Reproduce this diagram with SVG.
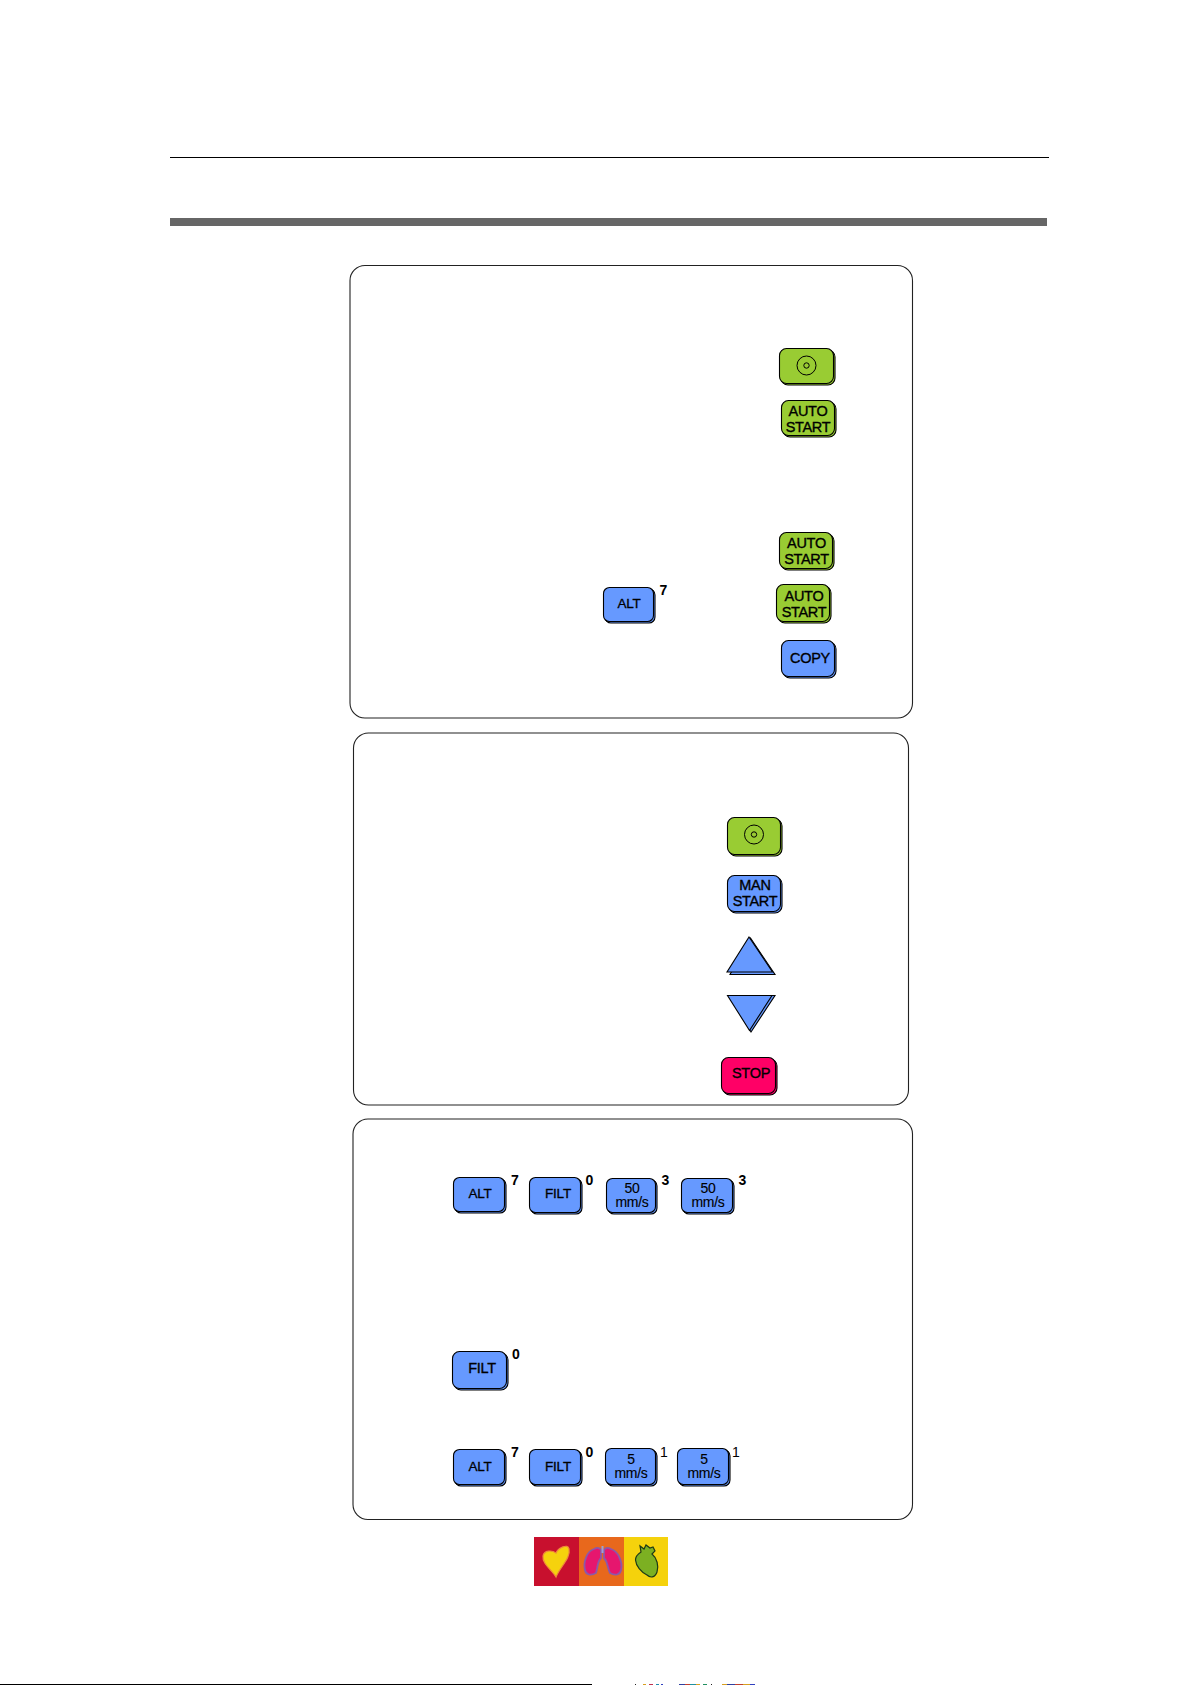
<svg xmlns="http://www.w3.org/2000/svg" width="1191" height="1685" viewBox="0 0 1191 1685">
<defs><filter id="soft" x="-10%" y="-10%" width="120%" height="120%"><feGaussianBlur stdDeviation="0.5"/></filter></defs>
<style>
text{font-family:"Liberation Sans",Arial,sans-serif;fill:#000}
.k{font-size:14.500px;text-anchor:middle;stroke:#000;stroke-width:.35;letter-spacing:-.3px}
.s{font-size:13.500px;text-anchor:middle;stroke:#000;stroke-width:.3;letter-spacing:-.2px}
.m{font-size:14px;text-anchor:middle;stroke:#000;stroke-width:.12;letter-spacing:-.3px}
.n{font-size:14px}
.d{font-size:14px;font-weight:bold}
.panel{fill:#fff;stroke:#222;stroke-width:1.100}
.g rect,.g path{fill:#99cc33;stroke:#000;stroke-width:1.100}
.b rect,.b path{fill:#6699ff;stroke:#000;stroke-width:1.100}
.r rect{fill:#ff0066;stroke:#000;stroke-width:1.100}
.disc{fill:none;stroke:#000;stroke-width:1}
</style>
<rect width="1191" height="1685" fill="#fff"/>
<g id="rules">
<rect x="170" y="157" width="879" height="1" fill="#000"/>
<rect x="170" y="218" width="877" height="8" fill="#666"/>
<rect x="0" y="1684" width="592" height="1" fill="#000"/>
<g>
<rect x="635" y="1684" width="1" height="1" fill="#222"/><rect x="643" y="1684" width="3" height="1" fill="#d8a020"/><rect x="649" y="1684" width="4" height="1" fill="#c03050"/><rect x="656" y="1684" width="3" height="1" fill="#2090b0"/><rect x="661" y="1684" width="2" height="1" fill="#3040c0"/>
<rect x="679" y="1684" width="6" height="1" fill="#3040a0"/><rect x="685" y="1684" width="5" height="1" fill="#c04030"/><rect x="690" y="1684" width="6" height="1" fill="#2090a0"/><rect x="696" y="1684" width="4" height="1" fill="#d8a020"/><rect x="703" y="1684" width="4" height="1" fill="#209060"/><rect x="711" y="1684" width="1" height="1" fill="#222"/>
<rect x="722" y="1684" width="5" height="1" fill="#d8a020"/><rect x="727" y="1684" width="8" height="1" fill="#3040a0"/><rect x="735" y="1684" width="8" height="1" fill="#c04030"/><rect x="743" y="1684" width="7" height="1" fill="#d8a020"/><rect x="750" y="1684" width="5" height="1" fill="#3040c0"/>
</g>
</g>
<g id="panel-1"><rect class="panel" x="350" y="265.500" width="562.500" height="452.500" rx="15"/></g>
<g id="panel-2"><rect class="panel" x="353.500" y="733" width="555" height="372" rx="15"/></g>
<g id="panel-3"><rect class="panel" x="353" y="1119" width="559.500" height="400.500" rx="15"/></g>

<g id="btn-disc-1" class="g"><rect x="781" y="350" width="54" height="35" rx="7"/><rect x="779.500" y="348.500" width="54" height="35" rx="7"/><circle class="disc" cx="806.500" cy="365.500" r="9.500" style="fill:none"/><circle class="disc" cx="806.500" cy="365.500" r="2.700"/></g>
<g id="btn-auto-1" class="g"><rect x="783" y="402" width="53" height="35" rx="7"/><rect x="781.500" y="400.500" width="53" height="35" rx="7"/><text class="k" x="808" y="416">AUTO</text><text class="k" x="808" y="432">START</text></g>
<g id="btn-auto-2" class="g"><rect x="781" y="534" width="53" height="36" rx="7"/><rect x="779.500" y="532.500" width="53" height="36" rx="7"/><text class="k" x="806.500" y="548">AUTO</text><text class="k" x="806.500" y="564">START</text></g>
<g id="btn-alt-1" class="b"><rect x="605" y="589" width="50" height="34" rx="6"/><rect x="603.500" y="587.500" width="50" height="34" rx="6"/><text class="s" x="629" y="608">ALT</text></g>
<text class="d" x="659.500" y="594.500">7</text>
<g id="btn-auto-3" class="g"><rect x="778" y="586" width="53" height="37" rx="7"/><rect x="776.500" y="584.500" width="53" height="37" rx="7"/><text class="k" x="804" y="601">AUTO</text><text class="k" x="804" y="616.500">START</text></g>
<g id="btn-copy" class="b"><rect x="783" y="642" width="53" height="36" rx="7"/><rect x="781.500" y="640.500" width="53" height="36" rx="7"/><text class="k" x="810" y="663">COPY</text></g>

<g id="btn-disc-2" class="g"><rect x="729" y="819" width="53" height="37" rx="7"/><rect x="727.500" y="817.500" width="53" height="37" rx="7"/><circle class="disc" cx="754" cy="834.500" r="9.500" style="fill:none"/><circle class="disc" cx="754" cy="834.500" r="2.700"/></g>
<g id="btn-man" class="b"><rect x="729" y="877" width="53" height="36" rx="7"/><rect x="727.500" y="875.500" width="53" height="36" rx="7"/><text class="k" x="755" y="890">MAN</text><text class="k" x="755" y="906">START</text></g>
<g id="btn-up" class="b"><path d="M750.500 938L775 974.500H730Z"/><path d="M749 937L772.500 972H727Z"/></g>
<g id="btn-down" class="b"><path d="M730 995.500H775L751 1032Z"/><path d="M727.500 995.500H772L749.500 1030.500Z"/></g>
<g id="btn-stop" class="r"><rect x="723" y="1059" width="54" height="36" rx="7"/><rect x="721.500" y="1057.500" width="54" height="36" rx="7"/><text class="k" x="751" y="1078">STOP</text></g>

<g id="btn-alt-2" class="b"><rect x="455" y="1179" width="51" height="34" rx="6"/><rect x="453.500" y="1177.500" width="51" height="34" rx="6"/><text class="s" x="480" y="1198">ALT</text></g>
<text class="d" x="511" y="1185">7</text>
<g id="btn-filt-1" class="b"><rect x="531" y="1179" width="51" height="35" rx="6"/><rect x="529.500" y="1177.500" width="51" height="35" rx="6"/><text class="s" x="558" y="1198">FILT</text></g>
<text class="d" x="585.500" y="1185">0</text>
<g id="btn-50-1" class="b"><rect x="608" y="1180" width="49" height="34" rx="6"/><rect x="606.500" y="1178.500" width="49" height="34" rx="6"/><text class="m" x="632" y="1193">50</text><text class="m" x="632" y="1207">mm/s</text></g>
<text class="d" x="661.500" y="1185">3</text>
<g id="btn-50-2" class="b"><rect x="683" y="1180" width="51" height="34" rx="6"/><rect x="681.500" y="1178.500" width="51" height="34" rx="6"/><text class="m" x="708" y="1193">50</text><text class="m" x="708" y="1207">mm/s</text></g>
<text class="d" x="738.500" y="1185">3</text>

<g id="btn-filt-2" class="b"><rect x="454" y="1353" width="54" height="37" rx="7"/><rect x="452.500" y="1351.500" width="54" height="37" rx="7"/><text class="k" x="482" y="1373">FILT</text></g>
<text class="d" x="512" y="1359">0</text>

<g id="btn-alt-3" class="b"><rect x="455" y="1451" width="51" height="35" rx="6"/><rect x="453.500" y="1449.500" width="51" height="35" rx="6"/><text class="s" x="480" y="1471">ALT</text></g>
<text class="d" x="511" y="1457">7</text>
<g id="btn-filt-3" class="b"><rect x="531" y="1451" width="51" height="35" rx="6"/><rect x="529.500" y="1449.500" width="51" height="35" rx="6"/><text class="s" x="558" y="1471">FILT</text></g>
<text class="d" x="585.500" y="1457">0</text>
<g id="btn-5-1" class="b"><rect x="607" y="1450" width="50" height="36" rx="6"/><rect x="605.500" y="1448.500" width="50" height="36" rx="6"/><text class="m" x="631" y="1464">5</text><text class="m" x="631" y="1478">mm/s</text></g>
<text class="n" x="660" y="1457">1</text>
<g id="btn-5-2" class="b"><rect x="679" y="1450" width="51" height="36" rx="6"/><rect x="677.500" y="1448.500" width="51" height="36" rx="6"/><text class="m" x="704" y="1464">5</text><text class="m" x="704" y="1478">mm/s</text></g>
<text class="n" x="732" y="1457">1</text>

<g id="logo">
<rect x="534" y="1537" width="45" height="49" fill="#c8102e"/>
<rect x="579" y="1537" width="45" height="49" fill="#e8681c"/>
<rect x="624" y="1537" width="44" height="49" fill="#f5d20c"/>
<g filter="url(#soft)">
<path d="M556 1577C552 1570 542 1564 543 1556C544 1550 552 1550 556 1553C558 1548 568 1543 569 1549C571 1558 560 1567 556 1577Z" fill="#f5d20c" stroke="#ee8a3a" stroke-width="1.200"/>
<path d="M601 1550V1558C597 1562 598 1567 596 1573C591 1576 586 1575 585 1570C583 1562 587 1551 594 1549C598 1547 600 1548 601 1550Z" fill="#e6186e" stroke="#8c58a8" stroke-width="1.800"/>
<path d="M604 1550V1558C608 1562 607 1567 610 1573C615 1576 620 1575 621 1570C623 1562 618 1551 611 1549C607 1547 605 1548 604 1550Z" fill="#e6186e" stroke="#8c58a8" stroke-width="1.800"/>
<rect x="601.500" y="1546" width="2" height="7" fill="#9aa0d8"/>
<path d="M641 1552L640 1546L644 1549L646 1545L650 1548L653 1547L655 1551L652 1554C657 1558 659 1566 657 1572C655 1578 650 1578 647 1575C641 1572 636 1566 635.500 1560C635.500 1557 638 1554 641 1552Z" fill="#7cb022" stroke="#1f3a18" stroke-width="1.200"/>
</g>
</g>
</svg>
